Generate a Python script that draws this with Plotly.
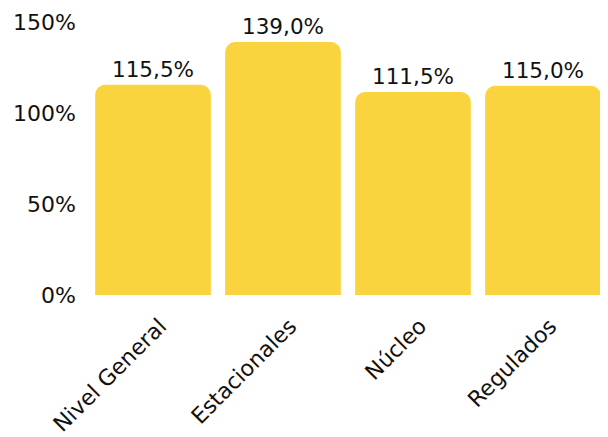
import plotly.graph_objects as go

categories = ["Nivel General", "Estacionales", "Núcleo", "Regulados"]
values = [115.5, 139.0, 111.5, 115.0]
tick_values = [0, 50, 100, 150]
tick_labels = ["0%", "50%", "100%", "150%"]

FONT = "DejaVu Sans"

fig = go.Figure(
    go.Bar(
        x=categories,
        y=values,
        marker=dict(color="#F9D43F", line=dict(width=0)),
        texttemplate="%{y:.1f}%",
        textposition="outside",
        textfont=dict(family=FONT, size=21.5, color="#111111"),
        cliponaxis=False,
    )
)

fig.update_layout(
    width=600,
    height=429,
    margin=dict(l=80, r=0, t=14, b=142, autoexpand=False),
    paper_bgcolor="white",
    plot_bgcolor="white",
    separators=",.",
    bargap=0.11,
    barcornerradius=10,
    showlegend=False,
    font=dict(family=FONT, color="#111111"),
    xaxis=dict(
        tickangle=-45,
        tickfont=dict(family=FONT, size=22, color="#111111"),
        showgrid=False,
        showline=False,
        zeroline=False,
        automargin=False,
        ticklabelshift=7,
        ticklabelstandoff=13,
    ),
    yaxis=dict(
        range=[0, 150],
        tickmode="array",
        tickvals=tick_values,
        ticktext=tick_labels,
        tickfont=dict(family=FONT, size=22, color="#111111"),
        showgrid=False,
        showline=False,
        zeroline=False,
        automargin=False,
        ticklabelstandoff=11,
    ),
)

fig.write_html("out.html")
